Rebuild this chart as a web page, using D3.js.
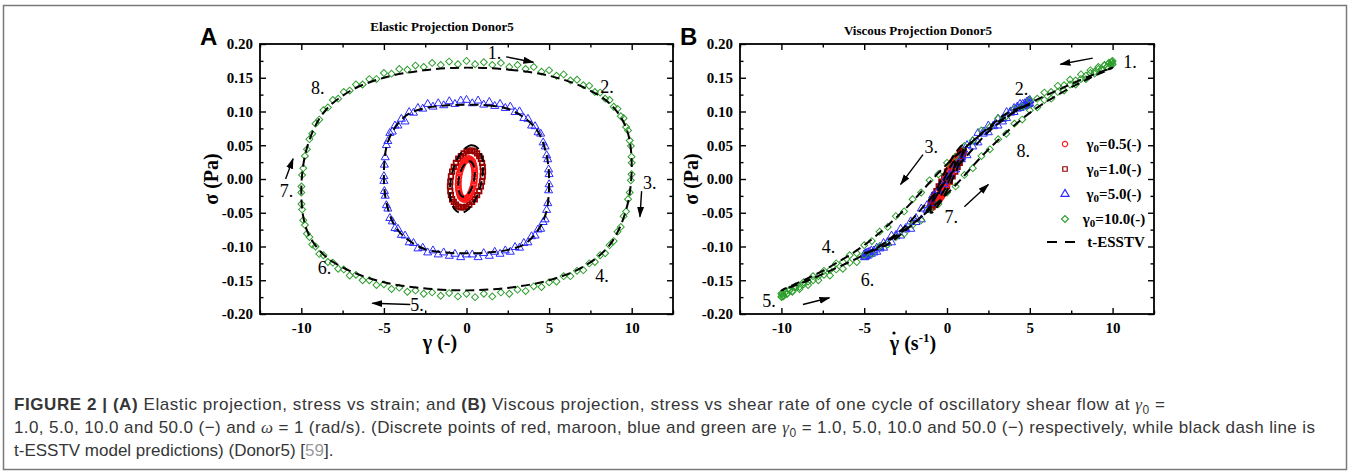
<!DOCTYPE html>
<html>
<head>
<meta charset="utf-8">
<script src="https://cdn.jsdelivr.net/npm/d3@7"></script>
<style>
body { margin: 0; background: #fff; }
svg { display: block; }
</style>
</head>
<body>
<svg id="fig"></svg>
<script>
var w = 1351
var h = 472

// ---- data (one cycle, time ordered) ----
// gamma0 = 10
var g10Strain = [0,.52,1.05,1.56,2.08,2.59,3.09,3.58,4.07,4.54,
  5.00,5.45,5.88,6.29,6.69,7.07,7.43,7.77,8.09,8.39,
  8.66,8.91,9.14,9.34,9.51,9.66,9.78,9.88,9.95,9.99,
  10,9.99,9.95,9.88,9.78,9.66,9.51,9.34,9.14,8.91,
  8.66,8.39,8.09,7.77,7.43,7.07,6.69,6.29,5.88,5.45,
  5.00,4.54,4.07,3.58,3.09,2.59,2.08,1.56,1.05,.52,
  0,-.52,-1.05,-1.56,-2.08,-2.59,-3.09,-3.58,-4.07,-4.54,
  -5.00,-5.45,-5.88,-6.29,-6.69,-7.07,-7.43,-7.77,-8.09,-8.39,
  -8.66,-8.91,-9.14,-9.34,-9.51,-9.66,-9.78,-9.88,-9.95,-9.99,
  -10,-9.99,-9.95,-9.88,-9.78,-9.66,-9.51,-9.34,-9.14,-8.91,
  -8.66,-8.39,-8.09,-7.77,-7.43,-7.07,-6.69,-6.29,-5.88,-5.45,
  -5.00,-4.54,-4.07,-3.58,-3.09,-2.59,-2.08,-1.56,-1.05,-.52]
var g10Rate = [10,9.99,9.95,9.88,9.78,9.66,9.51,9.34,9.14,8.91,
  8.66,8.39,8.09,7.77,7.43,7.07,6.69,6.29,5.88,5.45,
  5.00,4.54,4.07,3.58,3.09,2.59,2.08,1.56,1.05,.52,
  0,-.52,-1.05,-1.56,-2.08,-2.59,-3.09,-3.58,-4.07,-4.54,
  -5.00,-5.45,-5.88,-6.29,-6.69,-7.07,-7.43,-7.77,-8.09,-8.39,
  -8.66,-8.91,-9.14,-9.34,-9.51,-9.66,-9.78,-9.88,-9.95,-9.99,
  -10,-9.99,-9.95,-9.88,-9.78,-9.66,-9.51,-9.34,-9.14,-8.91,
  -8.66,-8.39,-8.09,-7.77,-7.43,-7.07,-6.69,-6.29,-5.88,-5.45,
  -5.00,-4.54,-4.07,-3.58,-3.09,-2.59,-2.08,-1.56,-1.05,-.52,
  0,.52,1.05,1.56,2.08,2.59,3.09,3.58,4.07,4.54,
  5.00,5.45,5.88,6.29,6.69,7.07,7.43,7.77,8.09,8.39,
  8.66,8.91,9.14,9.34,9.51,9.66,9.78,9.88,9.95,9.99]
var g10Stress = [.175,.170,.173,.169,.172,.166,.169,.163,.166,.159,
  .161,.153,.155,.146,.147,.139,.138,.129,.128,.119,
  .117,.107,.104,.093,.090,.077,.072,.057,.049,.033,
  .024,.007,-.002,-.020,-.030,-.048,-.055,-.071,-.078,-.092,
  -.098,-.110,-.113,-.123,-.125,-.135,-.136,-.144,-.144,-.152,
  -.153,-.160,-.159,-.166,-.164,-.170,-.168,-.174,-.170,-.175,
  -.170,-.174,-.169,-.173,-.168,-.170,-.165,-.167,-.161,-.163,
  -.156,-.157,-.150,-.150,-.142,-.143,-.134,-.133,-.124,-.123,
  -.113,-.111,-.100,-.097,-.086,-.081,-.068,-.061,-.045,-.037,
  -.020,-.011,.006,.016,.034,.044,.059,.067,.082,.088,
  .102,.106,.117,.119,.129,.131,.140,.140,.148,.148,
  .157,.156,.163,.162,.168,.166,.172,.169,.174,.170]

// gamma0 = 5
var g5Strain = [0,.35,.70,1.04,1.38,1.71,2.03,2.35,2.65,
  2.94,3.21,3.47,3.72,3.94,4.15,4.33,4.49,4.64,
  4.76,4.85,4.92,4.97,5.00,5.00,4.97,4.92,4.85,
  4.76,4.64,4.49,4.33,4.15,3.94,3.72,3.47,3.21,
  2.94,2.65,2.35,2.03,1.71,1.38,1.04,.70,.35,
  0,-.35,-.70,-1.04,-1.38,-1.71,-2.03,-2.35,-2.65,
  -2.94,-3.21,-3.47,-3.72,-3.94,-4.15,-4.33,-4.49,-4.64,
  -4.76,-4.85,-4.92,-4.97,-5.00,-5.00,-4.97,-4.92,-4.85,
  -4.76,-4.64,-4.49,-4.33,-4.15,-3.94,-3.72,-3.47,-3.21,
  -2.94,-2.65,-2.35,-2.03,-1.71,-1.38,-1.04,-.70,-.35]
var g5Rate = [5,4.99,4.95,4.89,4.81,4.70,4.57,4.41,4.24,
  4.05,3.83,3.60,3.35,3.08,2.80,2.50,2.19,1.87,
  1.55,1.21,.87,.52,.17,-.17,-.52,-.87,-1.21,
  -1.55,-1.87,-2.19,-2.50,-2.80,-3.08,-3.35,-3.60,-3.83,
  -4.05,-4.24,-4.41,-4.57,-4.70,-4.81,-4.89,-4.95,-4.99,
  -5,-4.99,-4.95,-4.89,-4.81,-4.70,-4.57,-4.41,-4.24,
  -4.05,-3.83,-3.60,-3.35,-3.08,-2.80,-2.50,-2.19,-1.87,
  -1.55,-1.21,-.87,-.52,-.17,.17,.52,.87,1.21,
  1.55,1.87,2.19,2.50,2.80,3.08,3.35,3.60,3.83,
  4.05,4.24,4.41,4.57,4.70,4.81,4.89,4.95,4.99]
var g5Stress = [.117,.112,.116,.110,.114,.108,.111,.105,.107,
  .099,.100,.090,.089,.079,.078,.069,.067,.054,
  .048,.035,.029,.014,.007,-.008,-.017,-.036,-.046,
  -.060,-.064,-.074,-.075,-.084,-.085,-.094,-.095,-.102,
  -.101,-.108,-.106,-.111,-.108,-.114,-.110,-.116,-.112,
  -.112,-.116,-.111,-.114,-.109,-.112,-.106,-.109,-.102,
  -.103,-.095,-.094,-.084,-.083,-.074,-.073,-.063,-.058,
  -.044,-.039,-.025,-.018,-.003,.004,.021,.032,.050,
  .056,.068,.070,.079,.079,.089,.085,.099,.098,
  .105,.104,.111,.107,.112,.109,.115,.111,.116]

// gamma0 = 1.0
var g1Strain = [0,.17,.34,.5,.64,.77,.87,.94,.98,1,.98,.94,.87,.77,.64,.5,.34,.17,
  0,-.17,-.34,-.5,-.64,-.77,-.87,-.94,-.98,-1,-.98,-.94,-.87,-.77,-.64,-.5,-.34,-.17]
var g1Rate = [1,.98,.94,.87,.77,.64,.5,.34,.17,0,-.17,-.34,-.5,-.64,-.77,-.87,-.94,-.98,
  -1,-.98,-.94,-.87,-.77,-.64,-.5,-.34,-.17,0,.17,.34,.5,.64,.77,.87,.94,.98]
var g1Stress = [.041,.042,.042,.041,.038,.034,.030,.024,.018,.011,.004,-.004,-.011,-.018,-.024,-.030,-.034,-.038,
  -.041,-.042,-.042,-.041,-.038,-.034,-.030,-.024,-.018,-.011,-.004,.004,.011,.018,.024,.030,.034,.038]

// gamma0 = 0.5
var g05Strain = [0,.09,.17,.25,.32,.38,.43,.47,.49,.5,.49,.47,.43,.38,.32,.25,.17,.09,
  0,-.09,-.17,-.25,-.32,-.38,-.43,-.47,-.49,-.5,-.49,-.47,-.43,-.38,-.32,-.25,-.17,-.09]
var g05Rate = [.5,.49,.47,.43,.38,.32,.25,.17,.09,0,-.09,-.17,-.25,-.32,-.38,-.43,-.47,-.49,
  -.5,-.49,-.47,-.43,-.38,-.32,-.25,-.17,-.09,0,.09,.17,.25,.32,.38,.43,.47,.49]
var g05Stress = [.029,.030,.030,.029,.027,.025,.021,.017,.013,.008,.003,-.003,-.008,-.013,-.017,-.021,-.025,-.027,
  -.029,-.030,-.030,-.029,-.027,-.025,-.021,-.017,-.013,-.008,-.003,.003,.008,.013,.017,.021,.025,.027]

// t-ESSTV model predictions
var m10Strain = [0,2.59,5,7.07,8.66,9.66,10,9.66,8.66,7.07,5,2.59,0,-2.59,-5,-7.07,-8.66,-9.66,-10,-9.66,-8.66,-7.07,-5,-2.59]
var m10Rate = [10,9.66,8.66,7.07,5,2.59,0,-2.59,-5,-7.07,-8.66,-9.66,-10,-9.66,-8.66,-7.07,-5,-2.59,0,2.59,5,7.07,8.66,9.66]
var m10Stress = [.165,.162,.153,.136,.112,.076,.022,-.046,-.098,-.130,-.150,-.161,-.165,-.162,-.153,-.136,-.112,-.076,-.022,.046,.098,.130,.150,.161]
var m5Strain = [0,1.29,2.5,3.54,4.33,4.83,5,4.83,4.33,3.54,2.5,1.29,0,-1.29,-2.5,-3.54,-4.33,-4.83,-5,-4.83,-4.33,-3.54,-2.5,-1.29]
var m5Rate = [5,4.83,4.33,3.54,2.5,1.29,0,-1.29,-2.5,-3.54,-4.33,-4.83,-5,-4.83,-4.33,-3.54,-2.5,-1.29,0,1.29,2.5,3.54,4.33,4.83]
var m5Stress = [.110,.109,.104,.090,.070,.037,.000,-.049,-.076,-.096,-.105,-.109,-.110,-.109,-.104,-.090,-.070,-.037,.000,.049,.076,.096,.105,.109]
var m1Strain = [0,.26,.5,.71,.87,.97,1,.97,.87,.71,.5,.26,0,-.26,-.5,-.71,-.87,-.97,-1,-.97,-.87,-.71,-.5,-.26]
var m1Rate = [1,.97,.87,.71,.5,.26,0,-.26,-.5,-.71,-.87,-.97,-1,-.97,-.87,-.71,-.5,-.26,0,.26,.5,.71,.87,.97]
var m1Stress = [.047,.050,.049,.045,.038,.029,.017,.004,-.009,-.021,-.032,-.041,-.047,-.050,-.049,-.045,-.038,-.029,-.017,-.004,.009,.021,.032,.041]
var m05Strain = [0,.13,.25,.35,.43,.48,.5,.48,.43,.35,.25,.13,0,-.13,-.25,-.35,-.43,-.48,-.5,-.48,-.43,-.35,-.25,-.13]
var m05Rate = [.5,.48,.43,.35,.25,.13,0,-.13,-.25,-.35,-.43,-.48,-.5,-.48,-.43,-.35,-.25,-.13,0,.13,.25,.35,.43,.48]
var m05Stress = [.024,.026,.026,.024,.020,.015,.009,.002,-.005,-.011,-.017,-.021,-.024,-.026,-.026,-.024,-.020,-.015,-.009,-.002,.005,.011,.017,.021]

var xMajor = [-10,-5,0,5,10]
var xMinor = [-12.5,-7.5,-2.5,2.5,7.5,12.5]
var yMajor = [-0.2,-0.15,-0.1,-0.05,0,0.05,0.1,0.15,0.2]
var yMinor = [-0.175,-0.125,-0.075,-0.025,0.025,0.075,0.125,0.175]

// cycle annotations, in data units: [text, x, stress]
var notesA = [["1.",1.7,0.186],["2.",8.5,0.137],["3.",11.1,-0.006],["4.",8.2,-0.144],
  ["5.",-3.0,-0.186],["6.",-8.6,-0.132],["7.",-10.9,-0.018],["8.",-9.0,0.135]]
var arrowsA = [[2.4,0.181,4.05,0.173],[10.6,-0.018,10.5,-0.056],[-3.4,-0.186,-5.7,-0.184],[-10.95,0.0,-10.5,0.03]]
var notesB = [["1.",11.05,0.173],["2.",4.5,0.133],["3.",-0.95,0.048],["4.",-7.15,-0.101],
  ["5.",-10.75,-0.181],["6.",-4.8,-0.149],["7.",0.25,-0.056],["8.",4.6,0.041]]
var arrowsB = [[8.8,0.179,6.85,0.170],[-1.45,0.036,-2.8,-0.008],[-8.7,-0.186,-7.1,-0.176],[1.05,-0.041,2.5,-0.008]]

var series = [
  {amp:"1.0", color:"#990000", shape:"square", strain:g1Strain, rate:g1Rate, stress:g1Stress},
  {amp:"0.5", color:"#ff1a1a", shape:"circle", strain:g05Strain, rate:g05Rate, stress:g05Stress},
  {amp:"5.0", color:"#2b2bff", shape:"triangle", strain:g5Strain, rate:g5Rate, stress:g5Stress},
  {amp:"10.0", color:"#2f9f2f", shape:"diamond", strain:g10Strain, rate:g10Rate, stress:g10Stress}
]
var models = [
  {strain:m10Strain, rate:m10Rate, stress:m10Stress},
  {strain:m5Strain, rate:m5Rate, stress:m5Stress},
  {strain:m1Strain, rate:m1Rate, stress:m1Stress},
  {strain:m05Strain, rate:m05Rate, stress:m05Stress}
]
var legendOrder = ["0.5","1.0","5.0","10.0"]

var serif = "'Liberation Serif','Times New Roman',serif"
var sans = "'Liberation Sans',Arial,Helvetica,sans-serif"

var svg = d3.select("#fig")
  .attr("width", w)
  .attr("height", h)

var defs = svg.append("defs")
defs.append("marker")
  .attr("id", "arr")
  .attr("markerUnits", "userSpaceOnUse")
  .attr("markerWidth", 11).attr("markerHeight", 8)
  .attr("refX", 10).attr("refY", 4)
  .attr("orient", "auto")
  .append("path")
  .attr("d", "M0,0.5L11,4L0,7.5Z")
  .attr("fill", "black")

// outer frame
svg.append("rect")
  .attr("x", 3.5).attr("y", 5.5)
  .attr("width", 1343).attr("height", 464)
  .attr("fill", "none")
  .attr("stroke", "#7a7a7a")
  .attr("stroke-width", 1.5)

function symbolPath(shape) {
  var types = {circle: d3.symbolCircle, square: d3.symbolSquare, triangle: d3.symbolTriangle, diamond: d3.symbolSquare}
  var sizes = {circle: 22, square: 20, triangle: 28, diamond: 24}
  return d3.symbol().type(types[shape]).size(sizes[shape])()
}

function drawPanel(cfg) {
  var g = svg.append("g")
  var x = d3.scaleLinear().domain([-12.5, 12.5]).range([cfg.left, cfg.right])
  var y = d3.scaleLinear().domain([-0.2, 0.2]).range([cfg.bottom, cfg.top])

  // markers
  series.forEach(function(s) {
    var pts = d3.zip(s[cfg.key], s.stress)
    g.append("g").selectAll("path")
      .data(pts)
      .join("path")
      .attr("d", symbolPath(s.shape))
      .attr("transform", function(d) {
        return "translate(" + x(d[0]) + "," + y(d[1]) + ")" + (s.shape == "diamond" ? " rotate(45)" : "")
      })
      .attr("fill", "none")
      .attr("stroke", s.color)
      .attr("stroke-width", s.shape == "circle" || s.shape == "square" ? 1.8 : 1)
  })

  // model lines
  var line = d3.line()
    .x(function(d) { return x(d[0]) })
    .y(function(d) { return y(d[1]) })
    .curve(d3.curveCatmullRomClosed)
  models.forEach(function(m) {
    g.append("path")
      .attr("d", line(d3.zip(m[cfg.key], m.stress)))
      .attr("fill", "none")
      .attr("stroke", "black")
      .attr("stroke-width", 2)
      .attr("stroke-dasharray", "9,5")
  })

  // axes, ticks pointing inward
  function styleAxis(sel) {
    sel.select(".domain").remove()
    sel.selectAll(".tick line").attr("stroke", "black").attr("stroke-width", 1.4)
    sel.selectAll("text").attr("font-family", serif).attr("font-weight", "bold")
      .attr("font-size", 15).attr("fill", "black")
  }
  g.append("g").attr("transform", "translate(0," + cfg.bottom + ")")
    .call(d3.axisBottom(x).tickValues(xMajor).tickSize(-6).tickPadding(8)
      .tickFormat(function(d) { return String(d) }))
    .call(styleAxis)
  g.append("g").attr("transform", "translate(0," + cfg.bottom + ")")
    .call(d3.axisBottom(x).tickValues(xMinor).tickSize(-3.5).tickFormat(""))
    .call(styleAxis)
  g.append("g").attr("transform", "translate(0," + cfg.top + ")")
    .call(d3.axisTop(x).tickValues(xMajor).tickSize(-6).tickFormat(""))
    .call(styleAxis)
  g.append("g").attr("transform", "translate(0," + cfg.top + ")")
    .call(d3.axisTop(x).tickValues(xMinor).tickSize(-3.5).tickFormat(""))
    .call(styleAxis)
  g.append("g").attr("transform", "translate(" + cfg.left + ",0)")
    .call(d3.axisLeft(y).tickValues(yMajor).tickSize(-6).tickPadding(7)
      .tickFormat(function(d) { return d.toFixed(2) }))
    .call(styleAxis)
  g.append("g").attr("transform", "translate(" + cfg.left + ",0)")
    .call(d3.axisLeft(y).tickValues(yMinor).tickSize(-3.5).tickFormat(""))
    .call(styleAxis)
  g.append("g").attr("transform", "translate(" + cfg.right + ",0)")
    .call(d3.axisRight(y).tickValues(yMajor).tickSize(-6).tickFormat(""))
    .call(styleAxis)
  g.append("g").attr("transform", "translate(" + cfg.right + ",0)")
    .call(d3.axisRight(y).tickValues(yMinor).tickSize(-3.5).tickFormat(""))
    .call(styleAxis)

  g.append("rect")
    .attr("x", cfg.left).attr("y", cfg.top)
    .attr("width", cfg.right - cfg.left).attr("height", cfg.bottom - cfg.top)
    .attr("fill", "none").attr("stroke", "black").attr("stroke-width", 1.8)

  // cycle numbers and arrows
  g.selectAll(".note")
    .data(cfg.notes)
    .join("text")
    .attr("x", function(d) { return x(d[1]) })
    .attr("y", function(d) { return y(d[2]) })
    .attr("text-anchor", "middle")
    .attr("dominant-baseline", "central")
    .attr("font-family", serif)
    .attr("font-size", 18)
    .text(function(d) { return d[0] })
  g.selectAll(".arrow")
    .data(cfg.arrows)
    .join("line")
    .attr("x1", function(d) { return x(d[0]) })
    .attr("y1", function(d) { return y(d[1]) })
    .attr("x2", function(d) { return x(d[2]) })
    .attr("y2", function(d) { return y(d[3]) })
    .attr("stroke", "black")
    .attr("stroke-width", 1.4)
    .attr("marker-end", "url(#arr)")

  // titles
  g.append("text")
    .attr("x", cfg.titleX).attr("y", cfg.titleY)
    .attr("text-anchor", "middle")
    .attr("font-family", serif).attr("font-weight", "bold").attr("font-size", 13)
    .text(cfg.title)
  g.append("text")
    .attr("x", cfg.left - 60).attr("y", 45)
    .attr("font-family", sans).attr("font-weight", "bold").attr("font-size", 24)
    .text(cfg.letter)
  g.append("text")
    .attr("transform", "translate(" + (cfg.left - 49) + "," + ((cfg.top + cfg.bottom) / 2) + ") rotate(-90)")
    .attr("text-anchor", "middle")
    .attr("dominant-baseline", "central")
    .attr("font-family", serif).attr("font-weight", "bold").attr("font-size", 20)
    .text("\u03c3 (Pa)")
  return {g: g, x: x, y: y}
}

var pA = drawPanel({left: 260, right: 673, top: 44, bottom: 314, key: "strain",
  notes: notesA, arrows: arrowsA, title: "Elastic Projection Donor5", titleX: 442, titleY: 31, letter: "A"})
var pB = drawPanel({left: 740, right: 1154, top: 44, bottom: 314, key: "rate",
  notes: notesB, arrows: arrowsB, title: "Viscous Projection Donor5", titleX: 918, titleY: 35, letter: "B"})

// x axis titles
pA.g.append("text")
  .attr("x", 440).attr("y", 349)
  .attr("text-anchor", "middle")
  .attr("font-family", serif).attr("font-weight", "bold").attr("font-size", 20)
  .text("\u03b3 (-)")
var xt = pB.g.append("text")
  .attr("x", 913).attr("y", 350)
  .attr("text-anchor", "middle")
  .attr("font-family", serif).attr("font-weight", "bold").attr("font-size", 20)
xt.append("tspan").text("\u03b3 (s")
xt.append("tspan").attr("dy", -8).attr("font-size", 13).text("-1")
xt.append("tspan").attr("dy", 8).text(")")
pB.g.append("circle").attr("cx", 894).attr("cy", 333).attr("r", 1.6).attr("fill", "black")

// legend in panel B
var legend = pB.g.append("g")
var legendRows = legendOrder.map(function(a) { return series.find(function(s) { return s.amp == a }) })
legendRows.forEach(function(s, i) {
  var yy = 144 + i * 25
  legend.append("path")
    .attr("d", symbolPath(s.shape))
    .attr("transform", "translate(1065," + yy + ")" + (s.shape == "diamond" ? " rotate(45)" : ""))
    .attr("fill", "none").attr("stroke", s.color).attr("stroke-width", 1.2)
  var t = legend.append("text")
    .attr("x", 1114).attr("y", yy)
    .attr("text-anchor", "middle").attr("dominant-baseline", "central")
    .attr("font-family", serif).attr("font-weight", "bold").attr("font-size", 15)
  t.append("tspan").text("\u03b3")
  t.append("tspan").attr("dy", 4).attr("font-size", 11).text("0")
  t.append("tspan").attr("dy", -4).text("=" + s.amp + "(-)")
})
legend.append("line")
  .attr("x1", 1047).attr("x2", 1076).attr("y1", 242).attr("y2", 242)
  .attr("stroke", "black").attr("stroke-width", 2).attr("stroke-dasharray", "10,8")
legend.append("text")
  .attr("x", 1116).attr("y", 242)
  .attr("text-anchor", "middle").attr("dominant-baseline", "central")
  .attr("font-family", serif).attr("font-weight", "bold").attr("font-size", 15)
  .text("t-ESSTV")

// caption
var cap = svg.append("g")
  .attr("font-family", sans).attr("font-size", 17).attr("fill", "#363636")
function capLine(y, parts, len) {
  var t = cap.append("text").attr("x", 14).attr("y", y)
  if (len) t.attr("textLength", len).attr("lengthAdjust", "spacing")
  parts.forEach(function(p) {
    var s = t.append("tspan").text(p.t)
    if (p.b) s.attr("font-weight", "bold")
    if (p.i) s.attr("font-style", "italic").attr("font-family", "'Liberation Serif',serif")
    if (p.sub) s.attr("dy", 4).attr("font-size", 12)
    if (p.up) s.attr("dy", -4)
    if (p.c) s.attr("fill", p.c)
  })
}
capLine(410, [
  {t: "FIGURE 2 | (A)", b: true},
  {t: " Elastic projection, stress vs strain; and "},
  {t: "(B)", b: true},
  {t: " Viscous projection, stress vs shear rate of one cycle of oscillatory shear flow at "},
  {t: "\u03b3", i: true}, {t: "0", sub: true}, {t: " =", up: true}
], 1151)
capLine(433, [
  {t: "1.0, 5.0, 10.0 and 50.0 (\u2212) and "},
  {t: "\u03c9", i: true},
  {t: " = 1 (rad/s). (Discrete points of red, maroon, blue and green are "},
  {t: "\u03b3", i: true}, {t: "0", sub: true},
  {t: " = 1.0, 5.0, 10.0 and 50.0 (\u2212) respectively, while black dash line is", up: true}
], 1301)
capLine(456, [
  {t: "t-ESSTV model predictions) (Donor5) ["},
  {t: "59", c: "#999"},
  {t: "]."}
])
</script>
</body>
</html>
